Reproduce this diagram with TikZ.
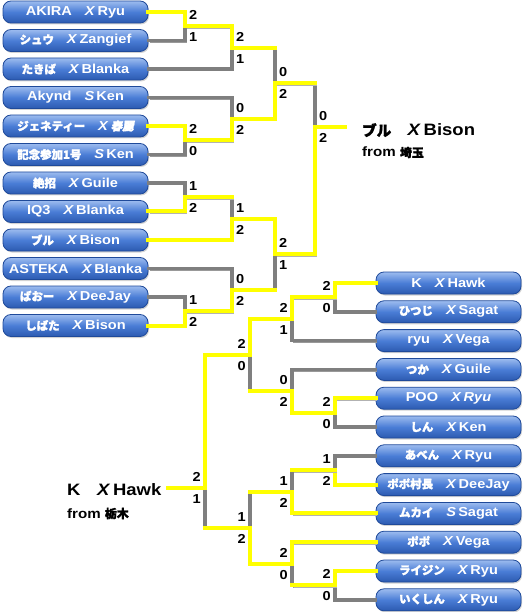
\documentclass[tikz,border=0pt]{standalone}
\usepackage{fontspec}
\setmainfont{Liberation Sans}[FakeStretch=1.12]
\newfontfamily\jp{Noto Sans CJK JP}[Scale=0.88,FakeBold=2]
\newfontfamily\jpsl{Noto Sans CJK JP}[Scale=0.88,FakeBold=2,FakeSlant=0.2]
\usetikzlibrary{shadows}
\definecolor{winyellow}{HTML}{FFFF00}
\definecolor{losegray}{HTML}{7F7F7F}
\definecolor{boxtop}{HTML}{9DBCEF}
\definecolor{boxmid}{HTML}{4A7DD6}
\definecolor{boxbot}{HTML}{2C5AB0}
\definecolor{boxline}{HTML}{1F4A9A}
\newcommand\ver[1]{\textit{#1}}

\tikzset{
  player/.style={draw=boxline, line width=0.8, rounded corners=8,
    minimum width=145, minimum height=22, inner sep=0,
    top color=boxtop, bottom color=boxbot, middle color=boxmid,
    text=white, font=\bfseries\fontsize{13}{13}\selectfont,
    drop shadow={opacity=0.35, shadow xshift=1pt, shadow yshift=-1.5pt}},
  won/.style={draw=winyellow, line width=4, line cap=rect,
    preaction={draw=black!30, transform canvas={shift={(1.5,1.5)}}}},
  lost/.style={draw=losegray, line width=3.5, line cap=rect,
    preaction={draw=black!40, transform canvas={shift={(1.5,1.5)}}}},
  score/.style={font=\bfseries\fontsize{13}{13}\selectfont, inner sep=0},
  scoreL/.style={score, anchor=west, xshift=4},
  scoreR/.style={score, anchor=east, xshift=-4},
  champ/.style={font=\bfseries\fontsize{16.5}{16.5}\selectfont, inner sep=0, anchor=base west},
  hometown/.style={font=\bfseries\fontsize{13.5}{13.5}\selectfont, inner sep=0, anchor=base west},
}

\begin{document}
\begin{tikzpicture}[x=1pt, y=-1pt]
  \useasboundingbox (0,0) rectangle (524,612);

  % left block
  \node[player] (akira)   at (75.5,12)    {AKIRA\quad\ver{X}\,Ryu};
  \node[player] (shuu)    at (75.5,40.5)  {{\jp シュウ}\quad\ver{X}\,Zangief};
  \node[player] (takiba)  at (75.5,69)    {{\jp たきば}\quad\ver{X}\,Blanka};
  \node[player] (akynd)   at (75.5,97.5)  {Akynd\quad\ver{S}\,Ken};
  \node[player] (genety)  at (75.5,126)   {{\jp ジェネティー}\quad\ver{X}\,{\jpsl 春麗}};
  \node[player] (kinen)   at (75.5,154.5) {{\jp 記念参加1号}\quad\ver{S}\,Ken};
  \node[player] (zessho)  at (75.5,183)   {{\jp 絶招}\quad\ver{X}\,Guile};
  \node[player] (iq3)     at (75.5,211.5) {IQ3\quad\ver{X}\,Blanka};
  \node[player] (buru)    at (75.5,240)   {{\jp ブル}\quad\ver{X}\,Bison};
  \node[player] (asteka)  at (75.5,268.5) {ASTEKA\quad\ver{X}\,Blanka};
  \node[player] (bao)     at (75.5,297)   {{\jp ばおー}\quad\ver{X}\,DeeJay};
  \node[player] (shibata) at (75.5,325.5) {{\jp しばた}\quad\ver{X}\,Bison};

  % right block
  \node[player] (khawk)   at (448.5,283)   {K\quad\ver{X}\,Hawk};
  \node[player] (hitsuji) at (448.5,311.8) {{\jp ひつじ}\quad\ver{X}\,Sagat};
  \node[player] (ryu)     at (448.5,340.6) {ryu\quad\ver{X}\,Vega};
  \node[player] (tsuka)   at (448.5,369.4) {{\jp つか}\quad\ver{X}\,Guile};
  \node[player] (poo)     at (448.5,398.2) {POO\quad\ver{X}\,\textit{Ryu}};
  \node[player] (shin)    at (448.5,427)   {{\jp しん}\quad\ver{X}\,Ken};
  \node[player] (aben)    at (448.5,455.8) {{\jp あべん}\quad\ver{X}\,Ryu};
  \node[player] (poposon) at (448.5,484.6) {{\jp ポポ村長}\quad\ver{X}\,DeeJay};
  \node[player] (mukai)   at (448.5,513.4) {{\jp ムカイ}\quad\ver{S}\,Sagat};
  \node[player] (popo)    at (448.5,542.2) {{\jp ポポ}\quad\ver{X}\,Vega};
  \node[player] (raijin)  at (448.5,571)   {{\jp ライジン}\quad\ver{X}\,Ryu};
  \node[player] (ikushin) at (448.5,599.8) {{\jp いくしん}\quad\ver{X}\,Ryu};

  % match points
  \coordinate (j1) at (185,26.25);
  \coordinate (j2) at (232,47.6);
  \coordinate (j3) at (185,140.25);
  \coordinate (j4) at (232,118.9);
  \coordinate (j5) at (275,83.25);
  \coordinate (j6) at (185,197.25);
  \coordinate (j7) at (232,218.6);
  \coordinate (j8) at (185,311.25);
  \coordinate (j9) at (232,289.9);
  \coordinate (j10) at (275,254.25);
  \coordinate (jL) at (315,127);
  \coordinate (endA) at (345,127);
  \coordinate (k1) at (335,297.4);
  \coordinate (k2) at (292,319);
  \coordinate (k3) at (335,412.6);
  \coordinate (k4) at (292,391);
  \coordinate (k5) at (250,355);
  \coordinate (k6) at (335,470.2);
  \coordinate (k7) at (292,491.8);
  \coordinate (k8) at (335,585.4);
  \coordinate (k9) at (292,563.8);
  \coordinate (k10) at (250,527.8);
  \coordinate (kR) at (205,488);
  \coordinate (endB) at (168,488);

  % losers
  \draw[lost] (shuu.east) -| (j1);
  \draw[lost] (takiba.east) -| (j2);
  \draw[lost] (kinen.east) -| (j3);
  \draw[lost] (akynd.east) -| (j4);
  \draw[lost] (j2) -| (j5);
  \draw[lost] (zessho.east) -| (j6);
  \draw[lost] (j6) -| (j7);
  \draw[lost] (bao.east) -| (j8);
  \draw[lost] (asteka.east) -| (j9);
  \draw[lost] (j9) -| (j10);
  \draw[lost] (j5) -| (jL);
  \draw[lost] (hitsuji.west) -| (k1);
  \draw[lost] (ryu.west) -| (k2);
  \draw[lost] (shin.west) -| (k3);
  \draw[lost] (tsuka.west) -| (k4);
  \draw[lost] (k4) -| (k5);
  \draw[lost] (aben.west) -| (k6);
  \draw[lost] (k6) -| (k7);
  \draw[lost] (ikushin.west) -| (k8);
  \draw[lost] (k8) -| (k9);
  \draw[lost] (k7) -| (k10);
  \draw[lost] (k10) -| (kR);

  % winners
  \draw[won] (akira.east) -| (j1);
  \draw[won] (j1) -| (j2);
  \draw[won] (genety.east) -| (j3);
  \draw[won] (j3) -| (j4);
  \draw[won] (j4) -| (j5);
  \draw[won] (iq3.east) -| (j6);
  \draw[won] (buru.east) -| (j7);
  \draw[won] (shibata.east) -| (j8);
  \draw[won] (j8) -| (j9);
  \draw[won] (j7) -| (j10);
  \draw[won] (j10) -| (jL);
  \draw[won] (jL) -- (endA);
  \draw[won] (khawk.west) -| (k1);
  \draw[won] (k1) -| (k2);
  \draw[won] (poo.west) -| (k3);
  \draw[won] (k3) -| (k4);
  \draw[won] (k2) -| (k5);
  \draw[won] (poposon.west) -| (k6);
  \draw[won] (mukai.west) -| (k7);
  \draw[won] (raijin.west) -| (k8);
  \draw[won] (popo.west) -| (k9);
  \draw[won] (k9) -| (k10);
  \draw[won] (k5) -| (kR);
  \draw[won] (kR) -- (endB);
  % a winner of the round before stays yellow up to the next bar
  \draw[won] (j2) -- (j2 -| j5);
  \draw[won] (j6) -- (j6 -| j7);
  \draw[won] (j9) -- (j9 -| j10);
  \draw[won] (j5) -- (j5 -| jL);
  \draw[won] (k4) -- (k4 -| k5);
  \draw[won] (k6) -- (k6 -| k7);
  \draw[won] (k8) -- (k8 -| k9);
  \draw[won] (k7) -- (k7 -| k10);
  \draw[won] (k10) -- (k10 -| kR);

  % scores
  \node[scoreL, yshift=11] (j1a) at (j1) {2};   \node[scoreL, yshift=-11] (j1b) at (j1) {1};
  \node[scoreL, yshift=11] (j2a) at (j2) {2};   \node[scoreL, yshift=-11] (j2b) at (j2) {1};
  \node[scoreL, yshift=11] (j3a) at (j3) {2};   \node[scoreL, yshift=-11] (j3b) at (j3) {0};
  \node[scoreL, yshift=11] (j4a) at (j4) {0};   \node[scoreL, yshift=-11] (j4b) at (j4) {2};
  \node[scoreL, yshift=11] (j5a) at (j5) {0};   \node[scoreL, yshift=-11] (j5b) at (j5) {2};
  \node[scoreL, yshift=11] (j6a) at (j6) {1};   \node[scoreL, yshift=-11] (j6b) at (j6) {2};
  \node[scoreL, yshift=11] (j7a) at (j7) {1};   \node[scoreL, yshift=-11] (j7b) at (j7) {2};
  \node[scoreL, yshift=11] (j8a) at (j8) {1};   \node[scoreL, yshift=-11] (j8b) at (j8) {2};
  \node[scoreL, yshift=11] (j9a) at (j9) {0};   \node[scoreL, yshift=-11] (j9b) at (j9) {2};
  \node[scoreL, yshift=11] (j10a) at (j10) {2}; \node[scoreL, yshift=-11] (j10b) at (j10) {1};
  \node[scoreL, yshift=11] (jLa) at (jL) {0};   \node[scoreL, yshift=-11] (jLb) at (jL) {2};
  \node[scoreR, yshift=11] (k1a) at (k1) {2};   \node[scoreR, yshift=-11] (k1b) at (k1) {0};
  \node[scoreR, yshift=11] (k2a) at (k2) {2};   \node[scoreR, yshift=-11] (k2b) at (k2) {1};
  \node[scoreR, yshift=11] (k3a) at (k3) {2};   \node[scoreR, yshift=-11] (k3b) at (k3) {0};
  \node[scoreR, yshift=11] (k4a) at (k4) {0};   \node[scoreR, yshift=-11] (k4b) at (k4) {2};
  \node[scoreR, yshift=11] (k5a) at (k5) {2};   \node[scoreR, yshift=-11] (k5b) at (k5) {0};
  \node[scoreR, yshift=11] (k6a) at (k6) {1};   \node[scoreR, yshift=-11] (k6b) at (k6) {2};
  \node[scoreR, yshift=11] (k7a) at (k7) {1};   \node[scoreR, yshift=-11] (k7b) at (k7) {2};
  \node[scoreR, yshift=11] (k8a) at (k8) {2};   \node[scoreR, yshift=-11] (k8b) at (k8) {0};
  \node[scoreR, yshift=11] (k9a) at (k9) {2};   \node[scoreR, yshift=-11] (k9b) at (k9) {0};
  \node[scoreR, yshift=11] (k10a) at (k10) {1}; \node[scoreR, yshift=-11] (k10b) at (k10) {2};
  \node[scoreR, yshift=11] (kRa) at (kR) {2};   \node[scoreR, yshift=-11] (kRb) at (kR) {1};

  % champions
  \node[champ] (champA) at (362,136) {{\jp ブル}\quad\ver{X}\,Bison};
  \node[hometown] (fromA) at ([yshift=-21]champA.base west) {from {\jp 埼玉}};
  \node[champ] (champB) at (67,495) {K\quad\ver{X}\,Hawk};
  \node[hometown] (fromB) at ([yshift=-23]champB.base west) {from {\jp 栃木}};
\end{tikzpicture}
\end{document}
